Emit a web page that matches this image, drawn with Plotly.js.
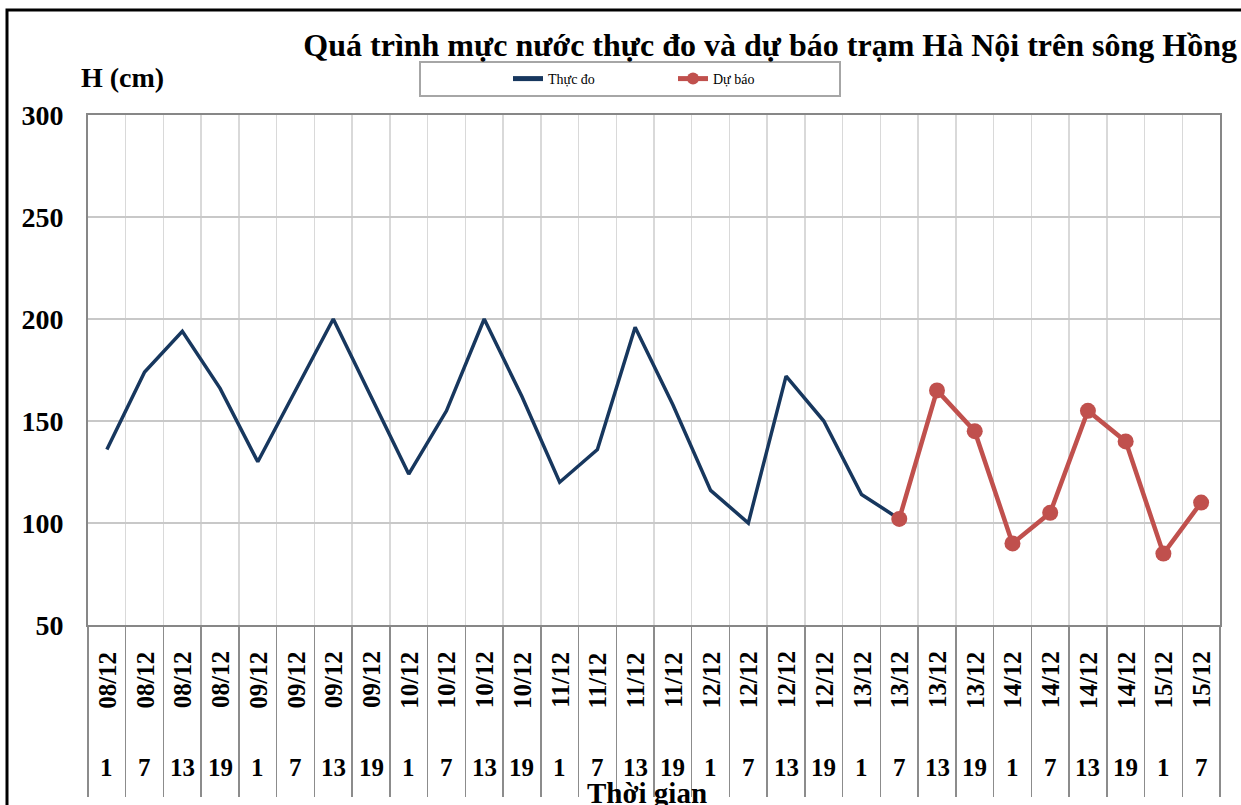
<!DOCTYPE html>
<html>
<head>
<meta charset="utf-8">
<script src="https://cdn.plot.ly/plotly-3.0.1.min.js"></script>
<style>html,body{margin:0;padding:0;background:#fff;}#chart{width:1241px;height:805px;}</style>
</head>
<body>
<div id="chart"></div>
<script>
// ---- data ----
const dates = ['08/12','08/12','08/12','08/12','09/12','09/12','09/12','09/12',
               '10/12','10/12','10/12','10/12','11/12','11/12','11/12','11/12',
               '12/12','12/12','12/12','12/12','13/12','13/12','13/12','13/12',
               '14/12','14/12','14/12','14/12','15/12','15/12'];
const hours = ['1','7','13','19','1','7','13','19','1','7','13','19','1','7','13','19',
               '1','7','13','19','1','7','13','19','1','7','13','19','1','7'];
const observed = [136,174,194,166,130,165,200,162,124,155,200,162,120,136,196,158,116,100,172,150,114,102];
const forecast = [102,165,145,90,105,155,140,85,110];
const yTicks = [50,100,150,200,250,300];

const FONT = 'Liberation Serif, Times New Roman, serif';
const cats = dates.map((d,i)=>d+' '+hours[i]);
const obsX = cats.slice(0, observed.length);
const fcX = cats.slice(cats.length - forecast.length);

const traces = [
  {x: obsX, y: observed, type:'scatter', mode:'lines', name:'Thực đo',
   line:{color:'#17375e', width:3.5}},
  {x: fcX, y: forecast, type:'scatter', mode:'lines+markers', name:'Dự báo',
   line:{color:'#c0504d', width:4.5}, marker:{color:'#c0504d', size:16}}
];

const PH = 510; // plot height px
const annotations = [];
cats.forEach((c,i)=>{
  annotations.push({x:c, xref:'x', yref:'paper', y:-55/PH, text:'<b>'+dates[i]+'</b>',
    textangle:-90, showarrow:false, xanchor:'center', yanchor:'middle',
    font:{family:FONT, size:25, color:'#000'}});
  annotations.push({x:c, xref:'x', yref:'paper', y:-142/PH, text:'<b>'+hours[i]+'</b>',
    showarrow:false, xanchor:'center', yanchor:'middle',
    font:{family:FONT, size:25, color:'#000'}});
});
annotations.push({xref:'paper', yref:'paper', x:(647-88)/1132, y:-168/PH, text:'<b>Thời gian</b>',
  showarrow:false, xanchor:'center', yanchor:'middle', font:{family:FONT, size:29, color:'#000'}});
annotations.push({xref:'paper', yref:'paper', x:(79-88)/1132, y:(625-77)/PH, text:'<b>H (cm)</b>',
  showarrow:false, xanchor:'left', yanchor:'middle', font:{family:FONT, size:28, color:'#000'}});

const layout = {
  width:1241, height:805,
  margin:{l:88, r:21, t:115, b:180},
  paper_bgcolor:'#fff', plot_bgcolor:'#fff',
  title:{text:'<b>Quá trình mực nước thực đo và dự báo trạm Hà Nội trên sông Hồng</b>',
    xref:'container', yref:'container', x:1237/1241, xanchor:'right', y:1-45/805, yanchor:'middle',
    font:{family:FONT, size:32, color:'#000'}},
  showlegend:true,
  legend:{orientation:'h', x:(508-88)/1132, xanchor:'left', y:(625-79)/PH, yanchor:'middle',
    bgcolor:'rgba(0,0,0,0)', borderwidth:0, entrywidth:120, itemsizing:'constant',
    font:{family:FONT, size:14, color:'#000'}},
  xaxis:{type:'category', tickson:'boundaries', showticklabels:false,
    showgrid:true, gridcolor:'#d9d9d9', gridwidth:1.5,
    ticks:'outside', ticklen:170, tickcolor:'#8c8c8c', tickwidth:1.5,
    showline:true, mirror:true, linecolor:'#878787', linewidth:2, zeroline:false,
    range:[-0.5, cats.length-0.5], fixedrange:true},
  yaxis:{range:[50,300], tickvals:yTicks, ticktext:yTicks.map(v=>'<b>'+v+'</b>'),
    showgrid:true, gridcolor:'#c8c8c8', gridwidth:1.5, ticks:'', ticklabelstandoff:17,
    showline:true, mirror:true, linecolor:'#878787', linewidth:2, zeroline:false,
    tickfont:{family:FONT, size:28, color:'#000'}},
  annotations: annotations,
  shapes:[
    {type:'rect', xref:'paper', yref:'paper', x0:(420-88)/1132, x1:(840-88)/1132,
     y0:(625-96)/PH, y1:(625-62)/PH, line:{color:'#a6a6a6', width:2}, fillcolor:'rgba(0,0,0,0)'},
    {type:'rect', xref:'paper', yref:'paper', x0:(7-88)/1132, x1:1.1,
     y0:-0.5, y1:(625-10)/PH, line:{color:'#000', width:3}, fillcolor:'rgba(0,0,0,0)'}
  ]
};

Plotly.newPlot('chart', traces, layout, {displayModeBar:false, staticPlot:true});
</script>
</body>
</html>
